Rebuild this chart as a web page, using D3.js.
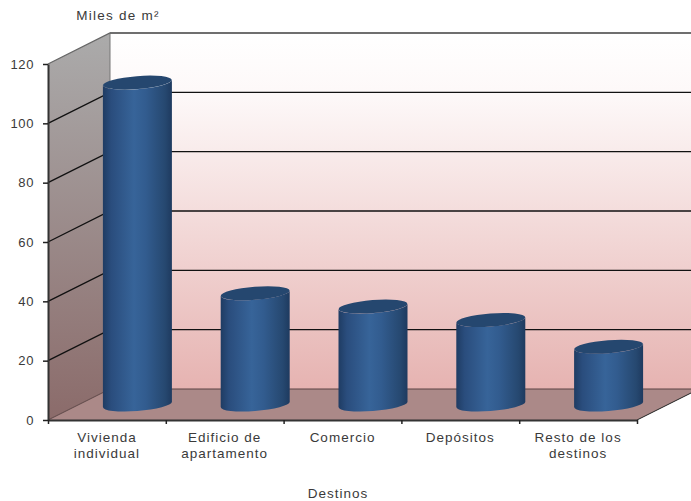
<!DOCTYPE html>
<html>
<head>
<meta charset="utf-8">
<script src="https://cdn.jsdelivr.net/npm/d3@7"></script>
<style>
    html, body { margin: 0; padding: 0; background: white; overflow: hidden; }
    text { font-family: "Liberation Sans", Arial, sans-serif; font-size: 13.5px; letter-spacing: 1px; fill: #3a3a3a; }
    .yaxis text { font-size: 13px; letter-spacing: 0.6px; }
    .domain { stroke: #333; stroke-width: 2; }
    .tick line { stroke: #222; stroke-width: 1.5; }
</style>
</head>
<body>
<div id="container"></div>
<script>
const categories = [["Vivienda", "individual"], ["Edificio de", "apartamento"], ["Comercio"], ["Depósitos"], ["Resto de los", "destinos"]];
const values = [108.5, 37.5, 33, 28.5, 19.5];
const yTicks = [0, 20, 40, 60, 80, 100, 120];
const yTitle = "Miles de m²";
const xTitle = "Destinos";

const width = 691;
const height = 501;
const left = 48;
const right = 637;
const bottom = 420;
const top3d = 64;
//how far the back wall is moved from the front of the box
const depthX = 62;
const depthY = -31;
const cylRx = 34.5;
const cylRy = 6.5;
const tilt = 2.6; //the ellipses lean up to the right
const angle = -4.5;

const names = categories.map(c => c.join(" "));
const xScale = d3.scaleBand().domain(names).range([left, right]);
const xEdges = d3.scaleLinear().domain([0, names.length]).range([left, right]);
const yScale = d3.scaleLinear().domain([0, 120]).range([bottom, top3d]);

const svg = d3.select("#container")
    .append("svg")
    .attr("width", width)
    .attr("height", height)
    .style("display", "block");

const defs = svg.append("defs");

function gradient(id, horizontal, stops) {
    const g = defs.append("linearGradient")
        .attr("id", id)
        .attr("x1", 0).attr("y1", 0)
        .attr("x2", horizontal ? 1 : 0)
        .attr("y2", horizontal ? 0 : 1);
    stops.forEach(s => g.append("stop").attr("offset", s[0]).attr("stop-color", s[1]));
}
gradient("backWall", false, [[0, "#ffffff"], [0.18, "#fdf8f8"], [1, "#e6b3b1"]]);
gradient("sideWall", false, [[0, "#ababab"], [1, "#8b6b6a"]]);
gradient("cylinder", true, [[0, "#1f3c63"], [0.12, "#2a4d7d"], [0.45, "#376499"], [0.62, "#325c8f"], [0.9, "#264870"], [1, "#1e3a5f"]]);

const polygon = pts => "M" + pts.map(p => p.join(",")).join("L") + "Z";

//back wall
svg.append("path")
    .attr("d", polygon([
        [left + depthX, yScale(120) + depthY],
        [right + depthX, yScale(120) + depthY],
        [right + depthX, yScale(0) + depthY],
        [left + depthX, yScale(0) + depthY]]))
    .attr("fill", "url(#backWall)");

//side wall
svg.append("path")
    .attr("d", polygon([
        [left, yScale(120)],
        [left + depthX, yScale(120) + depthY],
        [left + depthX, yScale(0) + depthY],
        [left, yScale(0)]]))
    .attr("fill", "url(#sideWall)");

//floor
svg.append("path")
    .attr("d", polygon([
        [left, yScale(0)],
        [left + depthX, yScale(0) + depthY],
        [right + depthX, yScale(0) + depthY],
        [right, yScale(0)]]))
    .attr("fill", "#ab8988");

//top edge of the box
svg.append("line")
    .attr("x1", left + depthX).attr("x2", width)
    .attr("y1", yScale(120) + depthY).attr("y2", yScale(120) + depthY)
    .attr("stroke", "#666").attr("stroke-width", 1.5);
svg.append("line")
    .attr("x1", left + depthX).attr("x2", left + depthX)
    .attr("y1", yScale(120) + depthY).attr("y2", yScale(0) + depthY)
    .attr("stroke", "#777").attr("stroke-width", 1);
svg.append("line")
    .attr("x1", right).attr("x2", right + depthX)
    .attr("y1", yScale(0)).attr("y2", yScale(0) + depthY)
    .attr("stroke", "#222").attr("stroke-width", 1);

//grid lines on both walls
yTicks.forEach(v => {
    svg.append("path")
        .attr("d", `M${left},${yScale(v)}L${left + depthX},${yScale(v) + depthY}L${right + depthX},${yScale(v) + depthY}`)
        .attr("fill", "none")
        .attr("stroke", v === 120 ? "#666" : (v === 0 ? "#5a4242" : "#111"))
        .attr("stroke-width", v === 0 ? 1 : 1.3);
});

//cylinders, they stand in the middle of the depth
values.forEach((value, i) => {
    const cx = xScale(names[i]) + xScale.bandwidth() / 2 + depthX / 2 - 0.5;
    const topY = yScale(value) + depthY / 2;
    const baseY = yScale(0) + depthY / 2;

    svg.append("path")
        .attr("d", `M${cx - cylRx},${topY + tilt}L${cx - cylRx},${baseY + tilt}` +
            `A${cylRx},${cylRy} ${angle} 0 0 ${cx + cylRx},${baseY - tilt}` +
            `L${cx + cylRx},${topY - tilt}` +
            `A${cylRx},${cylRy} ${angle} 0 1 ${cx - cylRx},${topY + tilt}Z`)
        .attr("fill", "url(#cylinder)");

    svg.append("ellipse")
        .attr("cx", cx)
        .attr("cy", topY)
        .attr("rx", cylRx)
        .attr("ry", cylRy)
        .attr("transform", `rotate(${angle} ${cx} ${topY})`)
        .attr("fill", "#25476f");
});

//adding left axis
svg.append("g")
    .attr("class", "yaxis")
    .attr("transform", `translate(${left},0)`)
    .call(d3.axisLeft(yScale).tickValues(yTicks).tickSize(5).tickSizeOuter(0).tickPadding(9));

//adding bottom axis, the ticks sit between the categories
svg.append("g")
    .attr("transform", `translate(0,${bottom})`)
    .call(d3.axisBottom(xEdges).ticks(names.length).tickFormat("").tickSize(4).tickSizeOuter(0));

//category labels, one or two lines
const labels = svg.append("g")
    .attr("transform", `translate(0,${bottom})`)
    .call(d3.axisBottom(xScale).tickSize(0).tickPadding(12).tickFormat(""));
labels.select(".domain").remove();
labels.selectAll(".tick text").each(function(d, i) {
    d3.select(this).selectAll("tspan")
        .data(categories[i])
        .join("tspan")
        .attr("x", 0)
        .attr("dy", (t, j) => j === 0 ? "0.71em" : "16px")
        .text(t => t);
});

//titles
svg.append("text")
    .attr("x", 118).attr("y", 20)
    .attr("text-anchor", "middle")
    .style("letter-spacing", "1.25px")
    .text(yTitle);
svg.append("text")
    .attr("x", 338).attr("y", 498)
    .attr("text-anchor", "middle")
    .text(xTitle);
</script>
</body>
</html>
